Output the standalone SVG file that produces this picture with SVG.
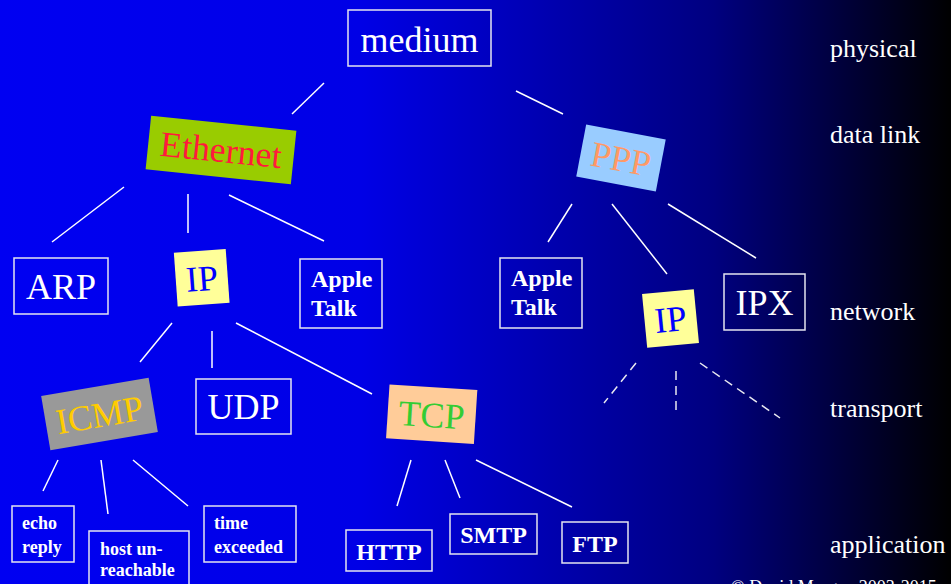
<svg xmlns="http://www.w3.org/2000/svg" width="951" height="584" viewBox="0 0 951 584">
  <defs>
    <linearGradient id="bg" x1="0" y1="0" x2="951" y2="0" gradientUnits="userSpaceOnUse">
      <stop offset="0" stop-color="#0000F2"/>
      <stop offset="0.38" stop-color="#0000E6"/>
      <stop offset="0.75" stop-color="#000080"/>
      <stop offset="1" stop-color="#000000"/>
    </linearGradient>
  </defs>
  <style>
    .box { fill: none; stroke: #E4E4F0; stroke-width: 1.5; }
    .big { font-family: "Liberation Serif", "Times New Roman", serif; font-size: 36px; text-anchor: middle; }
    .bold { font-family: "Liberation Serif", "Times New Roman", serif; font-weight: bold; fill: #FFFFFF; }
    .b24 { font-size: 24px; }
    .b18 { font-size: 18px; }
    .white { fill: #FFFFFF; }
    .layer { font-family: "Liberation Serif", "Times New Roman", serif; font-size: 26px; fill: #FFFFFF; }
    .link { stroke: #FFFFFF; stroke-width: 1.5; fill: none; }
    .dash { stroke: #E8E8F0; stroke-width: 1.5; fill: none; stroke-dasharray: 9 6; }
  </style>

  <rect x="0" y="0" width="951" height="584" fill="url(#bg)"/>

  <!-- connectors -->
  <g id="connectors">
    <line class="link" x1="324" y1="83" x2="292" y2="114"/>
    <line class="link" x1="516" y1="91" x2="563" y2="114"/>
    <line class="link" x1="124" y1="187" x2="52" y2="242"/>
    <line class="link" x1="188" y1="194" x2="188" y2="233"/>
    <line class="link" x1="229" y1="195" x2="324" y2="241"/>
    <line class="link" x1="572" y1="204" x2="548" y2="242"/>
    <line class="link" x1="612" y1="204" x2="667" y2="274"/>
    <line class="link" x1="668" y1="204" x2="756" y2="258"/>
    <line class="link" x1="172" y1="323" x2="140" y2="362"/>
    <line class="link" x1="212" y1="331" x2="212" y2="368"/>
    <line class="link" x1="236" y1="323" x2="372" y2="394"/>
    <line class="link" x1="58" y1="460" x2="43" y2="491"/>
    <line class="link" x1="101" y1="460" x2="108" y2="514"/>
    <line class="link" x1="133" y1="460" x2="188" y2="506"/>
    <line class="link" x1="411" y1="460" x2="397" y2="506"/>
    <line class="link" x1="445" y1="460" x2="460" y2="498"/>
    <line class="link" x1="476" y1="460" x2="572" y2="507"/>
    <line class="dash" x1="636" y1="363" x2="604" y2="403"/>
    <line class="dash" x1="676" y1="371" x2="676" y2="411"/>
    <line class="dash" x1="700" y1="363" x2="780" y2="418"/>
  </g>

  <!-- physical layer -->
  <g id="medium">
    <rect class="box" x="348" y="10" width="143" height="56"/>
    <text class="big white" x="419.5" y="52">medium</text>
  </g>

  <!-- data link layer -->
  <g id="ethernet" transform="translate(221 150) rotate(5.9)">
    <rect x="-73" y="-27" width="146" height="54" fill="#99CC00"/>
    <text class="big" x="0" y="12" fill="#FF1A3C">Ethernet</text>
  </g>
  <g id="ppp" transform="translate(621 158) rotate(10.8)">
    <rect x="-40.5" y="-26.5" width="81" height="53" fill="#99CCFF"/>
    <text class="big" x="0" y="13" fill="#FF9966">PPP</text>
  </g>

  <!-- network layer -->
  <g id="arp">
    <rect class="box" x="14" y="258" width="94" height="56"/>
    <text class="big white" x="61" y="299">ARP</text>
  </g>
  <g id="ip-ethernet" transform="translate(201.7 277.7) rotate(-4.1)">
    <rect x="-26" y="-27" width="52" height="54" fill="#FFFF99"/>
    <text class="big" x="0" y="13" fill="#0000FF">IP</text>
  </g>
  <g id="appletalk-ethernet">
    <rect class="box" x="300" y="259" width="82" height="69"/>
    <text class="bold b24" x="311" y="287">Apple</text>
    <text class="bold b24" x="311" y="316">Talk</text>
  </g>
  <g id="appletalk-ppp">
    <rect class="box" x="500" y="258" width="82" height="70"/>
    <text class="bold b24" x="511" y="286">Apple</text>
    <text class="bold b24" x="511" y="315">Talk</text>
  </g>
  <g id="ip-ppp" transform="translate(670.5 318.5) rotate(-5.5)">
    <rect x="-26" y="-27" width="52" height="54" fill="#FFFF99"/>
    <text class="big" x="0" y="13" fill="#0000FF">IP</text>
  </g>
  <g id="ipx">
    <rect class="box" x="724" y="274" width="81" height="56"/>
    <text class="big white" x="764.5" y="315">IPX</text>
  </g>

  <!-- transport layer -->
  <g id="icmp" transform="translate(99.5 414) rotate(-9.65)">
    <rect x="-54.5" y="-27.5" width="109" height="55" fill="#999999"/>
    <text class="big" x="0" y="13" fill="#FFCC00">ICMP</text>
  </g>
  <g id="udp">
    <rect class="box" x="196" y="379" width="95" height="55"/>
    <text class="big white" x="243.5" y="419">UDP</text>
  </g>
  <g id="tcp" transform="translate(431.7 414.2) rotate(3.7)">
    <rect x="-44" y="-27" width="88" height="54" fill="#FFCC99"/>
    <text class="big" x="0" y="13" fill="#33CC33">TCP</text>
  </g>

  <!-- application layer -->
  <g id="echo-reply">
    <rect class="box" x="12" y="506" width="62" height="56"/>
    <text class="bold b18" x="22" y="529">echo</text>
    <text class="bold b18" x="22" y="553">reply</text>
  </g>
  <g id="host-unreachable">
    <rect class="box" x="89" y="531" width="100" height="62"/>
    <text class="bold b18" x="100" y="555">host un-</text>
    <text class="bold b18" x="100" y="576">reachable</text>
  </g>
  <g id="time-exceeded">
    <rect class="box" x="204" y="506" width="92" height="56"/>
    <text class="bold b18" x="214" y="529">time</text>
    <text class="bold b18" x="214" y="553">exceeded</text>
  </g>
  <g id="http">
    <rect class="box" x="346" y="530" width="86" height="41"/>
    <text class="bold b24" x="389" y="560" text-anchor="middle">HTTP</text>
  </g>
  <g id="smtp">
    <rect class="box" x="450" y="514" width="87" height="40"/>
    <text class="bold b24" x="493.5" y="543" text-anchor="middle">SMTP</text>
  </g>
  <g id="ftp">
    <rect class="box" x="562" y="522" width="66" height="41"/>
    <text class="bold b24" x="595" y="552" text-anchor="middle">FTP</text>
  </g>

  <!-- layer names -->
  <g id="layers">
    <text class="layer" x="830" y="57">physical</text>
    <text class="layer" x="830" y="143">data link</text>
    <text class="layer" x="830" y="320">network</text>
    <text class="layer" x="830" y="417">transport</text>
    <text class="layer" x="830" y="553">application</text>
  </g>

  <text x="731" y="593" font-family="Liberation Serif, Times New Roman, serif" font-size="18" fill="#FFFFFF">© David Morgan 2003-2015</text>
</svg>
